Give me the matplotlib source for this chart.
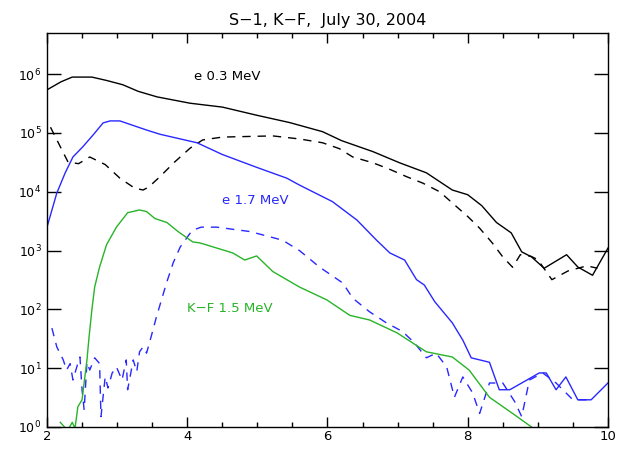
import numpy as np
import matplotlib
matplotlib.use('Agg')
import matplotlib.pyplot as plt
from matplotlib.ticker import FixedLocator, MultipleLocator, NullLocator, LogFormatterSciNotation

# e 0.3 MeV, solid
e03_x = [2.0, 2.2, 2.36, 2.64, 2.85, 3.08, 3.3, 3.57, 4.04, 4.5, 4.99, 5.46, 5.93, 6.2,
         6.65, 7.03, 7.41, 7.78, 8.0, 8.2, 8.41, 8.62, 8.77, 8.91, 9.09, 9.41, 9.57, 9.78, 10.0]
e03_y = [5.4e5, 7.4e5, 8.9e5, 8.9e5, 7.8e5, 6.6e5, 5.1e5, 4.1e5, 3.2e5, 2.75e5, 2.0e5, 1.5e5,
         1.05e5, 7.4e4, 4.8e4, 3.1e4, 2.1e4, 1.07e4, 8.9e3, 5.8e3, 3.0e3, 2.0e3, 950, 780,
         500, 850, 525, 380, 1100]

# e 0.3 MeV, dashed
e03d_x = [2.05, 2.1, 2.3, 2.45, 2.61, 2.83, 3.04, 3.25, 3.37, 3.45, 3.61, 3.82, 4.04, 4.22,
          4.5, 5.22, 5.6, 5.93, 6.17, 6.36, 6.65, 6.89, 7.13, 7.36, 7.6, 7.81, 8.0, 8.17,
          8.35, 8.5, 8.64, 8.75, 8.9, 9.0, 9.2, 9.43, 9.7, 9.85]
e03d_y = [1.25e5, 9.5e4, 3.2e4, 3.0e4, 3.9e4, 2.9e4, 1.7e4, 1.15e4, 1.07e4, 1.2e4, 1.8e4,
          3.2e4, 5.5e4, 7.6e4, 8.5e4, 8.9e4, 7.9e4, 6.8e4, 5.4e4, 3.9e4, 3.1e4, 2.4e4,
          1.8e4, 1.4e4, 1.0e4, 6.0e3, 3.8e3, 2.4e3, 1.35e3, 780, 520, 850, 800, 700, 320,
          450, 550, 500]

# e 1.7 MeV, solid
e17_x = [2.0, 2.14, 2.26, 2.37, 2.51, 2.66, 2.8, 2.9, 3.04, 3.42, 3.61, 4.14, 4.5, 4.99,
         5.42, 5.6, 6.07, 6.42, 6.7, 6.89, 7.1, 7.27, 7.38, 7.53, 7.78, 7.93, 8.05, 8.31,
         8.45, 8.6, 8.77, 9.02, 9.12, 9.26, 9.4, 9.57, 9.76, 10.0]
e17_y = [2.5e3, 9.5e3, 2.1e4, 3.9e4, 5.8e4, 9.3e4, 1.48e5, 1.6e5, 1.6e5, 1.12e5, 9.5e4,
         6.8e4, 4.3e4, 2.6e4, 1.7e4, 1.3e4, 6.8e3, 3.3e3, 1.5e3, 910, 690, 320, 260, 135,
         59, 30, 15, 12.6, 4.3, 4.3, 5.6, 8.3, 8.3, 4.3, 7.1, 2.9, 2.9, 5.6]

# e 1.7 MeV, dashed
e17d_x = [2.07, 2.14, 2.23, 2.28, 2.33, 2.37, 2.43, 2.47, 2.5, 2.53, 2.57, 2.61, 2.68,
          2.75, 2.77, 2.83, 2.87, 2.93, 2.99, 3.07, 3.13, 3.15, 3.23, 3.28, 3.32, 3.37,
          3.42, 3.49, 3.56, 3.64, 3.71, 3.8, 3.9, 4.07, 4.2, 4.42, 4.9, 5.36, 5.6, 5.89,
          6.22, 6.36, 6.6, 6.84, 7.07, 7.24, 7.41, 7.55, 7.7, 7.81, 7.93, 8.07, 8.17,
          8.31, 8.5, 8.67, 8.77, 8.88, 9.07, 9.26, 9.5, 9.73]
e17d_y = [48, 23, 14, 9.3, 12, 6.3, 11, 15.5, 4.3, 1.95, 12.6, 9.3, 15, 12, 1.5, 7.1, 4.6,
          8.3, 10.5, 6.3, 13.8, 4.3, 13.8, 8.7, 19, 23, 18, 36, 74, 155, 295, 620, 1150,
          2.2e3, 2.5e3, 2.5e3, 2.1e3, 1.5e3, 1.0e3, 520, 280, 155, 91, 59, 42, 27, 15, 18,
          10.5, 3.2, 7.1, 3.8, 1.7, 5.6, 5.6, 2.7, 1.5, 6.3, 8.3, 5.6, 2.9, 2.9]

# K-F 1.5 MeV
kf_x = [2.19, 2.25, 2.3, 2.36, 2.4, 2.44, 2.5, 2.54, 2.57, 2.6, 2.64, 2.68, 2.75, 2.85,
        2.99, 3.15, 3.32, 3.42, 3.54, 3.71, 3.87, 4.08, 4.18, 4.65, 4.82, 4.99, 5.22, 5.6,
        5.99, 6.32, 6.6, 6.99, 7.41, 7.78, 8.02, 8.31, 8.64, 8.91]
kf_y = [1.2, 1.0, 0.9, 1.2, 0.95, 2.2, 2.9, 7.1, 13.8, 34, 98, 240, 525, 1.26e3, 2.5e3,
        4.4e3, 4.9e3, 4.6e3, 3.5e3, 3.0e3, 2.1e3, 1.4e3, 1.35e3, 910, 690, 810, 440, 240,
        145, 79, 66, 40, 19, 15.5, 9.3, 3.2, 1.7, 1.0]

y_ticks = [1, 1e1, 1e2, 1e3, 1e4, 1e5, 1e6]

blue = '#2828ff'
green = '#28b428'
dash = (0, (6, 5))

fig = plt.figure(figsize=(6.24, 4.49), dpi=100)
ax = fig.add_axes([0.0753, 0.049, 0.899, 0.8775])

ax.plot(e03_x, e03_y, color='black', lw=1)
ax.plot(e03d_x, e03d_y, color='black', lw=1, linestyle=dash)
ax.plot(e17_x, e17_y, color=blue, lw=1)
ax.plot(e17d_x, e17d_y, color=blue, lw=1, linestyle=dash)
ax.plot(kf_x, kf_y, color=green, lw=1)

ax.set_yscale('log')
ax.set_xlim(2, 10)
ax.set_ylim(1, 5e6)

ax.xaxis.set_major_locator(MultipleLocator(2))
ax.xaxis.set_minor_locator(MultipleLocator(0.5))
ax.yaxis.set_major_locator(FixedLocator(y_ticks))
ax.yaxis.set_major_formatter(LogFormatterSciNotation())
ax.yaxis.set_minor_locator(NullLocator())

ax.tick_params(axis='both', which='both', direction='in', top=True, right=True,
               width=1, labelsize=9)
ax.tick_params(axis='x', which='major', length=7, pad=2, labelsize=9.5)
ax.tick_params(axis='x', which='minor', length=3.5)
ax.tick_params(axis='y', which='major', length=10, pad=4)
for s in ax.spines.values():
    s.set_linewidth(1)

ax.text(4.1, 9.0e5, 'e 0.3 MeV', color='black', fontsize=9.5, va='center')
ax.text(4.5, 7.2e3, 'e 1.7 MeV', color=blue, fontsize=9.5, va='center')
ax.text(4.0, 105, 'K\u2212F 1.5 MeV', color=green, fontsize=9.5, va='center')

ax.set_title('S\u22121, K\u2212F,  July 30, 2004', fontsize=11.5, pad=6)

fig.savefig('out.png', dpi=100)
